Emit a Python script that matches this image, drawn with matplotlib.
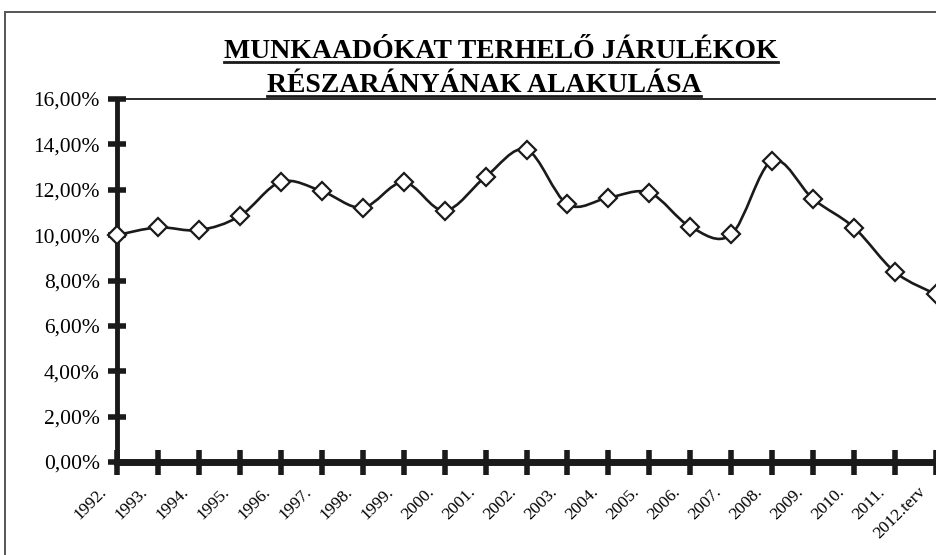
import numpy as np
import matplotlib.pyplot as plt
import matplotlib.transforms as mtransforms
from matplotlib.path import Path
from matplotlib.patches import PathPatch, Rectangle
from matplotlib.ticker import FuncFormatter

# evek (kategoriak) es a jarulekok reszaranya (%)
evek = ['1992.', '1993.', '1994.', '1995.', '1996.', '1997.', '1998.', '1999.',
        '2000.', '2001.', '2002.', '2003.', '2004.', '2005.', '2006.', '2007.',
        '2008.', '2009.', '2010.', '2011.', '2012.terv']
reszarany = [10.00, 10.34, 10.22, 10.84, 12.35, 11.94, 11.21, 12.33, 11.08, 12.57,
             13.77, 11.36, 11.65, 11.87, 10.37, 10.03, 13.28, 11.59, 10.33, 8.37, 7.39]
cim_1 = 'MUNKAADÓKAT TERHELŐ JÁRULÉKOK'
cim_2 = 'RÉSZARÁNYÁNAK ALAKULÁSA'

plt.rcParams['font.family'] = ['Liberation Serif', 'DejaVu Serif']

fig = plt.figure(figsize=(9.36, 5.55), dpi=100)
ax = fig.add_axes([117/936, 1 - 462/555, 1 - 117/936, (462 - 99)/555])

x = np.arange(len(evek))
y = np.array(reszarany)

# Excel-szeru simitott vonal: Catmull-Rom -> Bezier szakaszok
verts = [(x[0], y[0])]
codes = [Path.MOVETO]
n = len(x)
for i in range(n - 1):
    p0 = np.array([x[max(i-1, 0)], y[max(i-1, 0)]])
    p1 = np.array([x[i], y[i]])
    p2 = np.array([x[i+1], y[i+1]])
    p3 = np.array([x[min(i+2, n-1)], y[min(i+2, n-1)]])
    c1 = p1 + (p2 - p0) / 6
    c2 = p2 - (p3 - p1) / 6
    verts += [tuple(c1), tuple(c2), tuple(p2)]
    codes += [Path.CURVE4] * 3
ax.add_patch(PathPatch(Path(verts, codes), fill=False, edgecolor='#1a1a1a', lw=1.9, zorder=3))
ax.plot(x, y, linestyle='none', marker='D', markersize=9.5, markerfacecolor='white',
        markeredgecolor='#1a1a1a', markeredgewidth=1.6, zorder=4, clip_on=False)

ax.set_xlim(0, 20)
ax.set_ylim(0, 16)
ax.set_yticks(np.arange(0, 17, 2))
ax.yaxis.set_major_formatter(FuncFormatter(lambda v, p: f'{v:.2f}'.replace('.', ',') + '%'))
ax.set_xticks(x)
ax.set_xticklabels([])

# x feliratok kezzel, hogy el lehessen tolni oket
eltolas = mtransforms.ScaledTranslation(-18/100, -22/100, fig.dpi_scale_trans)
for i, ev in enumerate(evek):
    ax.text(i, 0, ev, transform=ax.get_xaxis_transform() + eltolas, rotation=45,
            ha='right', va='top', rotation_mode='anchor', fontsize=12.5, clip_on=False)

ax.spines['left'].set_linewidth(3.5)
ax.spines['bottom'].set_linewidth(5)
ax.spines['top'].set_linewidth(1.3)
ax.spines['right'].set_visible(False)
for s in ax.spines.values():
    s.set_color('#1a1a1a')
ax.tick_params(axis='y', direction='inout', length=13, width=4, pad=6, labelsize=15.5,
               color='#1a1a1a')
ax.tick_params(axis='x', direction='inout', length=18, width=4, color='#1a1a1a')

# keret a diagram korul
fig.patches.append(Rectangle((5/936, -0.01), 1.0, 1 - 12/555 + 0.01, transform=fig.transFigure,
                             fill=False, edgecolor='#555555', lw=1.4))

# cim alahuzassal
t1 = fig.text(501/936, 1 - 58/555, cim_1, ha='center', va='baseline', fontsize=20,
              fontweight='bold')
t2 = fig.text(484/936, 1 - 92/555, cim_2, ha='center', va='baseline', fontsize=20,
              fontweight='bold')
fig.canvas.draw()
r = fig.canvas.get_renderer()
for t, uy in [(t1, 62), (t2, 96)]:
    bb = t.get_window_extent(r)
    fig.add_artist(plt.Line2D([bb.x0 / 936, bb.x1 / 936], [1 - uy/555, 1 - uy/555],
                              transform=fig.transFigure, color='#1a1a1a', lw=2))

fig.savefig('out.png', dpi=100)
